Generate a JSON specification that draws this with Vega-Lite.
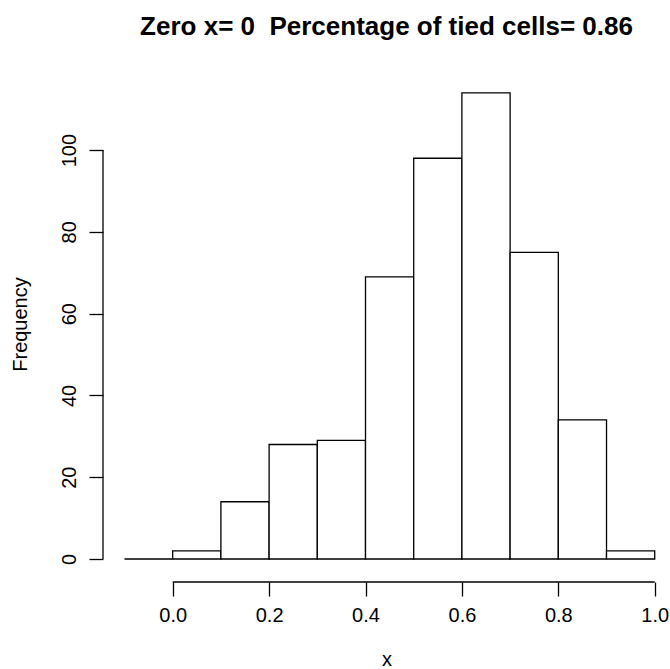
{
  "$schema": "https://vega.github.io/schema/vega-lite/v6.json",
  "width": 567,
  "height": 508,
  "autosize": {"type": "none"},
  "padding": {"left": 103, "top": 74, "right": 0, "bottom": 87},
  "background": "white",
  "config": {"view": {"stroke": null}},
  "title": {
    "text": "Zero x= 0\u00a0 Percentage of tied cells= 0.86",
    "font": "Liberation Sans",
    "fontSize": 26,
    "fontWeight": "bold",
    "color": "#000000",
    "anchor": "middle",
    "baseline": "alphabetic",
    "offset": 13
  },
  "datasets": {
    "bins": [
      {"bin_start": -0.1, "bin_end": 0.0, "count": 0},
      {"bin_start": 0.0, "bin_end": 0.1, "count": 2},
      {"bin_start": 0.1, "bin_end": 0.2, "count": 14},
      {"bin_start": 0.2, "bin_end": 0.3, "count": 28},
      {"bin_start": 0.3, "bin_end": 0.4, "count": 29},
      {"bin_start": 0.4, "bin_end": 0.5, "count": 69},
      {"bin_start": 0.5, "bin_end": 0.6, "count": 98},
      {"bin_start": 0.6, "bin_end": 0.7, "count": 114},
      {"bin_start": 0.7, "bin_end": 0.8, "count": 75},
      {"bin_start": 0.8, "bin_end": 0.9, "count": 34},
      {"bin_start": 0.9, "bin_end": 1.0, "count": 2}
    ]
  },
  "layer": [
    {
      "data": {"name": "bins"},
      "mark": {"type": "rect", "fill": "white", "stroke": "#000000", "strokeWidth": 1.3},
      "encoding": {
        "x": {
          "field": "bin_start",
          "type": "quantitative",
          "scale": {"domain": [-0.1446, 1.0317], "nice": false, "zero": false},
          "axis": {
            "values": [0, 0.2, 0.4, 0.6, 0.8, 1.0],
            "format": ".1f",
            "domain": false,
            "grid": false,
            "tickSize": 14,
            "tickWidth": 1.3,
            "tickColor": "#000000",
            "labelFont": "Liberation Sans",
            "labelFontSize": 20,
            "labelColor": "#000000",
            "labelPadding": 9,
            "labelFlush": false,
            "labelOverlap": false,
            "title": "x",
            "titleFont": "Liberation Sans",
            "titleFontSize": 20,
            "titleFontWeight": "normal",
            "titleColor": "#000000",
            "titleBaseline": "alphabetic",
            "titleY": 83
          }
        },
        "x2": {"field": "bin_end"},
        "y": {
          "field": "count",
          "type": "quantitative",
          "scale": {"domain": [-5.62, 118.6], "nice": false, "zero": false},
          "axis": {
            "values": [0, 20, 40, 60, 80, 100],
            "domain": false,
            "grid": false,
            "tickSize": 14,
            "tickWidth": 1.3,
            "tickColor": "#000000",
            "labelAngle": 270,
            "labelAlign": "center",
            "labelBaseline": "alphabetic",
            "labelFont": "Liberation Sans",
            "labelFontSize": 20,
            "labelColor": "#000000",
            "labelPadding": 14,
            "labelFlush": false,
            "labelOverlap": false,
            "title": "Frequency",
            "titleFont": "Liberation Sans",
            "titleFontSize": 20,
            "titleFontWeight": "normal",
            "titleColor": "#000000",
            "titleAngle": 270,
            "titleAlign": "center",
            "titleBaseline": "alphabetic",
            "titleX": -77,
            "titleY": 250
          }
        },
        "y2": {"datum": 0}
      }
    },
    {
      "data": {"values": [{}]},
      "mark": {"type": "rule", "stroke": "#000000", "strokeWidth": 1.3},
      "encoding": {
        "x": {"datum": 0, "type": "quantitative"},
        "x2": {"datum": 1},
        "y": {"datum": -5.62, "type": "quantitative"}
      }
    },
    {
      "data": {"values": [{}]},
      "mark": {"type": "rule", "stroke": "#000000", "strokeWidth": 1.3},
      "encoding": {
        "x": {"datum": -0.1446, "type": "quantitative"},
        "y": {"datum": 0, "type": "quantitative"},
        "y2": {"datum": 100}
      }
    }
  ]
}
